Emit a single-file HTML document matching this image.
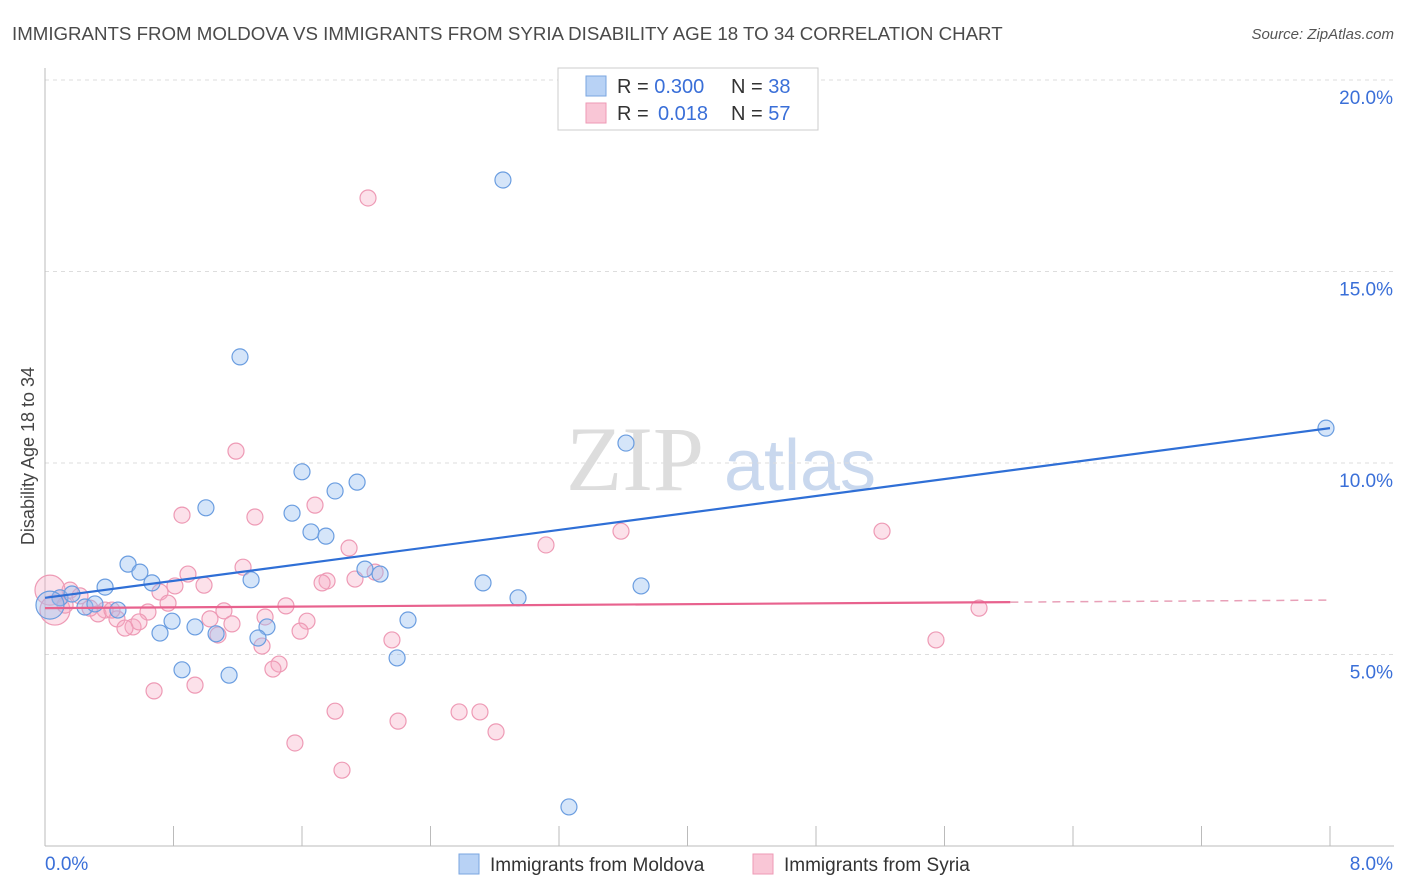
<!DOCTYPE html>
<html><head><meta charset="utf-8">
<style>
body{margin:0;background:#fff;width:1406px;height:892px;overflow:hidden;font-family:"Liberation Sans",sans-serif;}
svg{position:absolute;left:0;top:0}
</style></head>
<body>
<svg id="chart" width="1406" height="892">
<text x="12" y="40" font-size="18.7" fill="#4a4a4a">IMMIGRANTS FROM MOLDOVA VS IMMIGRANTS FROM SYRIA DISABILITY AGE 18 TO 34 CORRELATION CHART</text>
<text x="1394" y="39" font-size="15" fill="#555" text-anchor="end" font-style="italic">Source: ZipAtlas.com</text>
<text x="34" y="456" font-size="18" fill="#444" text-anchor="middle" transform="rotate(-90 34 456)">Disability Age 18 to 34</text>
<g><text x="635" y="490" font-size="92" fill="#ddd" font-family="Liberation Serif,serif" text-anchor="middle">ZIP</text><text x="800" y="490" font-size="72" fill="#c9d8ee" text-anchor="middle">atlas</text></g>
<g id="grid"></g><g id="marks"></g>
<g>
<rect x="558" y="68" width="260" height="62" fill="#fff" stroke="#ccc"/>
<rect x="586" y="76" width="20" height="20" fill="#b8d2f5" stroke="#7aa6e0"/>
<rect x="586" y="103" width="20" height="20" fill="#f9c6d6" stroke="#ee9ab5"/>
<text x="617" y="93" font-size="20" fill="#333">R = <tspan fill="#3a6fd8">0.300</tspan><tspan x="731">N = </tspan><tspan fill="#3a6fd8">38</tspan></text>
<text x="617" y="120" font-size="20" fill="#333">R = <tspan x="658" fill="#3a6fd8">0.018</tspan><tspan x="731">N = </tspan><tspan fill="#3a6fd8">57</tspan></text>
</g>
<g>
<rect x="459" y="854" width="20" height="20" fill="#b8d2f5" stroke="#7aa6e0"/>
<text x="490" y="871" font-size="19" fill="#333">Immigrants from Moldova</text>
<rect x="753" y="854" width="20" height="20" fill="#f9c6d6" stroke="#ee9ab5"/>
<text x="784" y="871" font-size="19" fill="#333">Immigrants from Syria</text>
</g>
</svg>
<script>
const yTicks=[5,10,15,20];
const yTickLabels=["5.0%","10.0%","15.0%","20.0%"];
const xTickLabels=["0.0%","8.0%"];
const blueX=[2.851,1.214,3.617,7.975,1.600,1.943,1.806,1.002,1.538,1.656,1.749,0.517,0.591,1.992,2.086,0.666,1.283,0.374,2.727,3.711,2.945,0.093,0.168,0.249,0.311,0.454,0.791,0.934,1.382,2.260,0.716,1.065,1.326,0.853,1.146,2.192,3.262,0.031];
const blueY=[17.39,12.77,10.52,10.91,9.77,9.50,9.27,8.83,8.69,8.20,8.09,7.36,7.15,7.23,7.10,6.87,6.95,6.76,6.87,6.79,6.48,6.48,6.58,6.24,6.32,6.16,5.87,5.72,5.72,5.90,5.56,5.54,5.43,4.60,4.46,4.91,1.02,6.29];
const pinkX=[2.011,1.189,0.853,1.307,1.681,1.893,3.119,3.586,5.211,1.233,0.890,1.756,1.930,1.725,2.055,0.809,0.990,0.716,0.766,0.156,0.093,0.218,0.374,0.330,0.448,0.548,0.641,0.585,0.498,1.027,1.114,1.164,1.370,1.500,1.631,1.588,1.077,1.351,1.457,1.419,2.160,5.547,5.815,0.679,0.934,1.806,2.578,2.708,2.198,2.808,1.556,1.849,0.031,0.062,0.280,0.417,0.125];
const pinkY=[16.92,10.31,8.64,8.59,8.90,7.78,7.86,8.22,8.22,7.28,7.10,6.92,6.97,6.87,7.15,6.79,6.81,6.63,6.34,6.68,6.48,6.53,6.16,6.06,5.93,5.72,6.11,5.85,5.69,5.93,6.14,5.80,5.98,6.27,5.87,5.61,5.51,5.22,4.75,4.62,5.38,5.38,6.21,4.05,4.20,3.52,3.50,3.50,3.26,2.98,2.69,1.98,6.68,6.16,6.21,6.16,6.29];
const blueTrend=[6.48,10.91];
const pinkTrend=[6.21,6.42];
const pinkSolidEnd=6.01;
const X=v=>45+v/8*1285, Y=v=>846-v*38.3;
const NS="http://www.w3.org/2000/svg";
function mk(p,t,a){const e=document.createElementNS(NS,t);for(const k in a)e.setAttribute(k,a[k]);p.appendChild(e);return e;}
const g=document.getElementById('grid'), m=document.getElementById('marks');
yTicks.forEach((t,i)=>{
 const l=mk(g,'line',{x1:45,x2:1394,y1:Y(t),y2:Y(t),stroke:'#ddd','stroke-dasharray':'4,4'});
 
 
 const tx=mk(g,'text',{x:1393,y:Y(t)+24,'font-size':19,fill:'#3a6fd8','text-anchor':'end'});
 tx.textContent=yTickLabels[i];
 
 
});
const ax=mk(g,'line',{x1:45,x2:1394,y1:846,y2:846,stroke:'#bbb'});


const ay=mk(g,'line',{x1:45,x2:45,y1:68,y2:846,stroke:'#bbb'});


for(let i=0;i<=10;i++){const v=i*0.8;if(X(v)>1394)break;
 const t=mk(g,'line',{x1:X(v),x2:X(v),y1:826,y2:846,stroke:'#bbb'});
 
 }
[[0,'start',45],[8,'end',1393]].forEach((d,i)=>{
 const tx=mk(g,'text',{x:d[2],y:870,'font-size':19,fill:'#3a6fd8','text-anchor':d[1]});
 tx.textContent=xTickLabels[i];
 
 });
pinkX.forEach((x,i)=>{const big=i>=52&&i<=53;
 const c=mk(m,'circle',{cx:X(x),cy:Y(pinkY[i]),r:big?15:8,fill:'rgba(246,170,196,0.35)',stroke:'#ee9ab5','stroke-width':1.2});
 
 });
blueX.forEach((x,i)=>{const big=i===37;
 const c=mk(m,'circle',{cx:X(x),cy:Y(blueY[i]),r:big?14:8,fill:'rgba(150,190,240,0.4)',stroke:'#6a9de0','stroke-width':1.2});
 
 });
const bl=mk(m,'line',{x1:X(0),y1:Y(blueTrend[0]),x2:X(8),y2:Y(blueTrend[1]),stroke:'#2f6fd6','stroke-width':2.2});


const pm=pinkTrend[0]+(pinkTrend[1]-pinkTrend[0])*pinkSolidEnd/8;
const pl=mk(m,'line',{x1:X(0),y1:Y(pinkTrend[0]),x2:X(pinkSolidEnd),y2:Y(pm),stroke:'#e8628e','stroke-width':2.2});


const pd=mk(m,'line',{x1:X(pinkSolidEnd),y1:Y(pm),x2:X(8),y2:Y(pinkTrend[1]),stroke:'#e8a0b8','stroke-width':1.5,'stroke-dasharray':'8,6'});


</script>
</body></html>
